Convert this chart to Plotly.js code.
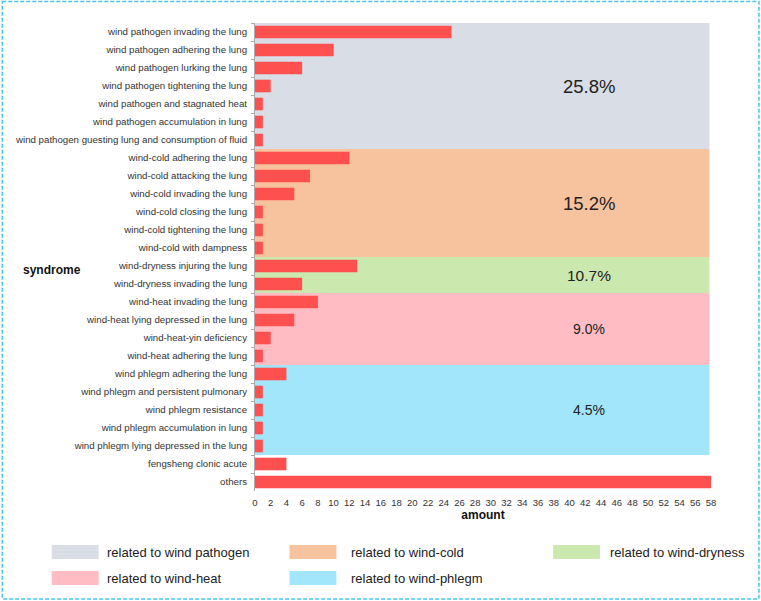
<!DOCTYPE html>
<html>
<head>
<meta charset="utf-8">
<script src="https://cdn.plot.ly/plotly-3.0.1.min.js"></script>
<style>
html,body{margin:0;padding:0;background:#fff;}
#chart{width:761px;height:601px;}
</style>
</head>
<body>
<div id="chart"></div>
<script>
// ---- data ----
var syndromes = [
  "wind pathogen invading the lung",
  "wind pathogen adhering the lung",
  "wind pathogen lurking the lung",
  "wind pathogen tightening the lung",
  "wind pathogen and stagnated heat",
  "wind pathogen accumulation in lung",
  "wind pathogen guesting lung and consumption of fluid",
  "wind-cold adhering the lung",
  "wind-cold attacking the lung",
  "wind-cold invading the lung",
  "wind-cold closing the lung",
  "wind-cold tightening the lung",
  "wind-cold with dampness",
  "wind-dryness injuring the lung",
  "wind-dryness invading the lung",
  "wind-heat invading the lung",
  "wind-heat lying depressed in the lung",
  "wind-heat-yin deficiency",
  "wind-heat adhering the lung",
  "wind phlegm adhering the lung",
  "wind phlegm and persistent pulmonary",
  "wind phlegm resistance",
  "wind phlegm accumulation in lung",
  "wind phlegm lying depressed in the lung",
  "fengsheng clonic acute",
  "others"
];
var amounts = [25, 10, 6, 2, 1, 1, 1, 12, 7, 5, 1, 1, 1, 13, 6, 8, 5, 2, 1, 4, 1, 1, 1, 1, 4, 58];

var groupNames = ["related to wind pathogen", "related to wind-cold", "related to wind-dryness", "related to wind-heat", "related to wind-phlegm"];
var groupSizes = [7, 6, 2, 4, 5];
var groupPercents = ["25.8%", "15.2%", "10.7%", "9.0%", "4.5%"];
var groupColors = ["#d9dde6", "#f7c29e", "#cbe8ae", "#ffbcc2", "#a2e6fc"];

// ---- layout helpers (pixel -> paper) ----
var W = 761, H = 601;
var mL = 254.5, mR = 50, mT = 23, mB = 110;
var pw = W - mL - mR, ph = H - mT - mB;
function px(x){ return (x - mL) / pw; }
function py(y){ return 1 - (y - mT) / ph; }

var shapes = [];
var annotations = [];
var start = 0;
var pctFont = [18.5, 18.5, 15.5, 14, 14];
for (var g = 0; g < groupSizes.length; g++) {
  var y0 = start - 0.5, y1 = start + groupSizes[g] - 0.5;
  shapes.push({type:"rect", xref:"x", yref:"y", x0:0, x1:57.8, y0:y0, y1:y1,
    fillcolor:groupColors[g], line:{width:0}, layer:"below"});
  annotations.push({xref:"x", yref:"y", x:42.5, y:(y0 + y1) / 2, text:groupPercents[g],
    showarrow:false, font:{family:"Liberation Sans, Arial, sans-serif", size:pctFont[g], color:"#222"}});
  start += groupSizes[g];
}

// legend (custom)
var legPos = [
  {sx:51, tx:104, y:552},
  {sx:289, tx:349, y:552},
  {sx:553, tx:608, y:552},
  {sx:51, tx:104, y:578},
  {sx:289, tx:349, y:578}
];
for (var i = 0; i < groupNames.length; i++) {
  var p = legPos[i];
  shapes.push({type:"rect", xref:"paper", yref:"paper",
    x0:px(p.sx), x1:px(p.sx + 47), y0:py(p.y - 7), y1:py(p.y + 7),
    fillcolor:groupColors[i], line:{width:0}});
  annotations.push({xref:"paper", yref:"paper", x:px(p.tx), y:py(p.y), xanchor:"left", yanchor:"middle",
    text:groupNames[i], showarrow:false,
    font:{family:"Liberation Sans, Arial, sans-serif", size:13, color:"#222"}});
}

// y axis title (horizontal)
annotations.push({xref:"paper", yref:"paper", x:px(20), y:py(270), xanchor:"left", yanchor:"middle",
  text:"<b>syndrome</b>", showarrow:false,
  font:{family:"Liberation Sans, Arial, sans-serif", size:12, color:"#111"}});

// border
shapes.push({type:"rect", xref:"paper", yref:"paper", x0:px(1.5), x1:px(759), y0:py(1.5), y1:py(599),
  line:{color:"#4cc3ee", width:1.5, dash:"4px,2px"}, fillcolor:"rgba(0,0,0,0)"});

var trace = {
  type:"bar", orientation:"h",
  x: amounts, y: syndromes,
  marker:{color:"#ff5050"},
  hoverinfo:"x+y"
};

var layout = {
  width:W, height:H,
  margin:{l:mL, r:mR, t:mT, b:mB},
  paper_bgcolor:"#fff", plot_bgcolor:"rgba(0,0,0,0)",
  bargap:0.3,
  showlegend:false,
  font:{family:"Liberation Sans, Arial, sans-serif", color:"#333"},
  xaxis:{range:[0,58], dtick:2, tick0:0, showgrid:false, zeroline:false, showline:false,
    ticks:"", tickfont:{size:9.5, color:"#333"}, ticklabelstandoff:4,
    title:{text:"<b>amount</b>", font:{size:12, color:"#111"}, standoff:4}},
  yaxis:{type:"category", autorange:"reversed", showgrid:false, zeroline:false,
    showline:true, linecolor:"#aaa", linewidth:1,
    ticks:"outside", tickson:"boundaries", ticklen:3, tickcolor:"#aaa",
    tickfont:{size:9.7, color:"#333"}, ticklabelstandoff:5},
  shapes:shapes,
  annotations:annotations
};

Plotly.newPlot("chart", [trace], layout, {displayModeBar:false, staticPlot:true});
</script>
</body>
</html>
